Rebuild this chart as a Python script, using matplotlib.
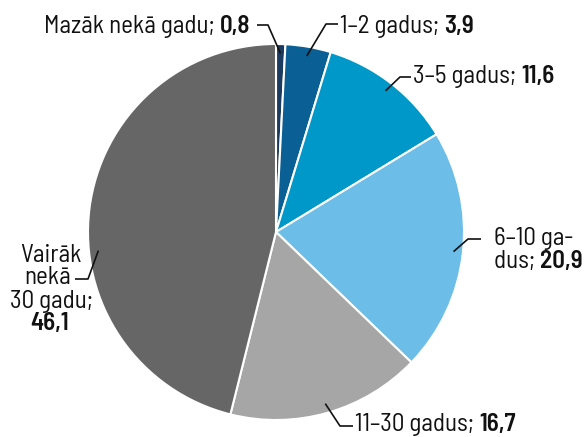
import numpy as np
import matplotlib
matplotlib.use("Agg")
import matplotlib.pyplot as plt

# shares in percent, clockwise from 12 o'clock
values = [0.8, 3.9, 11.6, 20.9, 16.7, 46.1]
value_text = ["0,8", "3,9", "11,6", "20,9", "16,7", "46,1"]
colors = ['#1b3a5f', '#0a5f94', '#0098c9', '#6cbde8', '#a6a6a6', '#666666']

W, H = 586, 437
fig = plt.figure(figsize=(W / 100, H / 100), dpi=100)
ax = fig.add_axes([0, 0, 1, 1])

cx, cy, r = 276, H - 232, 188
wedges, _ = ax.pie(values, colors=colors, startangle=90, counterclock=False,
                   center=(cx, cy), radius=r, frame=True,
                   wedgeprops=dict(edgecolor='white', linewidth=1.5))
ax.set_xlim(0, W)
ax.set_ylim(0, H)
ax.axis('off')

font = ['Barlow Semi Condensed', 'DejaVu Sans']
fs = 18
fig.canvas.draw()
renderer = fig.canvas.get_renderer()


def put(x, y, parts, ha='left'):
    # parts: list of (text, bold) on one line, y is the baseline (image px)
    texts = []
    xx = x
    for s, b in parts:
        t = ax.text(xx, H - y, s, fontsize=fs, family=font, va='baseline', ha='left',
                    fontweight='semibold' if b else 'normal', color='#111111')
        bb = t.get_window_extent(renderer)
        xx = xx + bb.width
        texts.append(t)
    if ha != 'left':
        shift = (xx - x) if ha == 'right' else (xx - x) / 2
        for t in texts:
            px, py = t.get_position()
            t.set_position((px - shift, py))


def leader(i, elbow, end, dang=0.0):
    th = wedges[i]
    mid = np.deg2rad((th.theta1 + th.theta2) / 2 + dang)
    tip = (cx + 0.95 * r * np.cos(mid), cy + 0.95 * r * np.sin(mid))
    ax.plot([tip[0], elbow[0], end[0]], [tip[1], H - elbow[1], H - end[1]],
            color='#111111', lw=1.2, solid_capstyle='butt')


put(250, 33, [("Mazāk nekā gadu; ", False), (value_text[0], True)], ha='right')
leader(0, (268, 25), (257, 25))

put(340, 33, [("1–2 gadus; ", False), (value_text[1], True)])
leader(1, (326, 24), (338, 24))

put(413, 83, [("3–5 gadus; ", False), (value_text[2], True)])
leader(2, (400, 77), (411, 77))

put(494, 245, [("6–10 ga-", False)])
put(494, 268, [("dus; ", False), (value_text[3], True)])
leader(3, (468, 239), (481, 239))

put(51, 262, [("Vairāk", False)], ha='center')
put(48, 284, [("nekā", False)], ha='center')
put(51, 308, [("30 gadu;", False)], ha='center')
put(50, 330, [(value_text[5], True)], ha='center')
leader(5, (88, 279), (75, 279), dang=13)

put(355, 431, [("11–30 gadus; ", False), (value_text[4], True)])
leader(4, (340, 426), (353, 426))

fig.savefig('out.png', dpi=100)
